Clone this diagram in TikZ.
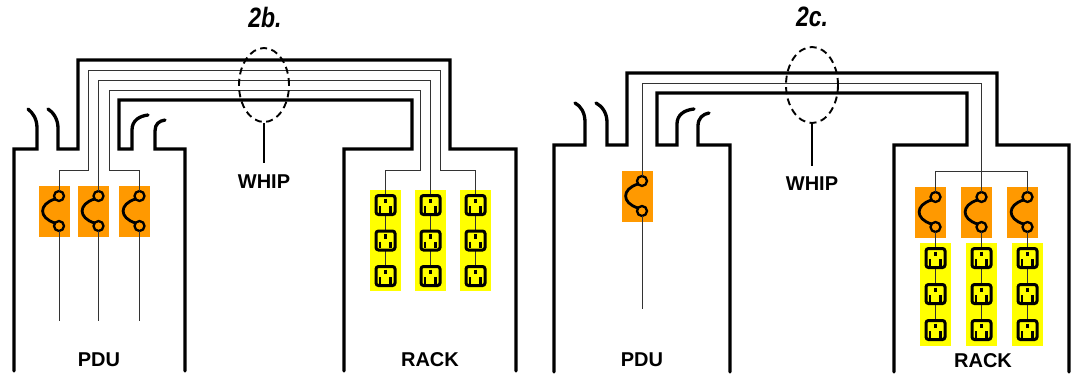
\documentclass[tikz,border=0pt]{standalone}
\usepackage{fontspec}
\setmainfont{Liberation Sans}
\usepackage{graphicx}
\usetikzlibrary{shapes.geometric}
\definecolor{fuseorange}{HTML}{FF9900}
\definecolor{outletyellow}{HTML}{FFFF00}
\begin{document}
\begin{tikzpicture}[x=1pt,y=-1pt,
  wall/.style={line width=3.3pt, line cap=round},
  wire/.style={line width=1pt, black!80},
  lbl/.style={font=\bfseries\fontsize{20}{24}\selectfont, inner sep=0pt},
  ttl/.style={font=\bfseries\itshape\fontsize{28}{30}\selectfont, inner sep=0pt},
  whip/.style={draw, dash pattern=on 7pt off 4.5pt, line width=1.9pt, ellipse, inner sep=0pt},
  leader/.style={line width=1.9pt},
  strip/.style={fill=outletyellow},
  fuse/.pic={
    \fill[fuseorange] (-20.5,-10) rectangle (10.5,41);
    \draw[line width=2.3pt] (0,0) circle[radius=5pt];
    \draw[line width=2.3pt] (0,30) circle[radius=5pt];
    \draw[line width=2.8pt] (-4,3) .. controls (-20.5,8) and (-20.5,22) .. (-4,27);
    \coordinate (-in) at (0,-5);
    \coordinate (-out) at (0,35);
  },
  outlet/.pic={
    \draw[line width=3pt, rounded corners=2.5pt, fill=outletyellow] (-9.5,-9.5) rectangle (9.5,9.5);
    \draw[line width=2.2pt] (0,-6.5) -- (0,-2);
    \draw[line width=2.2pt] (-5.5,1) -- (-5.5,7.5);
    \draw[line width=2.2pt] (5,1) -- (5,7.5);
  }
]
\useasboundingbox (0,0) rectangle (1074,375);

% ---------------- 2b ----------------
\node[ttl] (titleA) at (265,17) {\scalebox{0.82}[1]{2b.}};

% walls
\draw[wall] (14,371) -- (14,149) -- (37,149) -- (37,128) .. controls (37,119) and (33,113) .. (28,109);
\draw[wall] (48,109) .. controls (53,112) and (58,119) .. (58,128) -- (58,149) -- (78,149) -- (78,60) -- (450,60) -- (450,149) -- (516,149) -- (516,371);
\draw[wall] (148,115) .. controls (140,116) and (132,120) .. (132,130) -- (132,149) -- (119,149) -- (119,100) -- (412,100) -- (412,149) -- (344,149) -- (344,371);
\draw[wall] (165,120) .. controls (159,121) and (155,124) .. (155,131) -- (155,149) -- (185,149) -- (185,371);

% fuses in PDU
\pic (fA1) at (59,196) {fuse};
\pic (fA2) at (98.5,196) {fuse};
\pic (fA3) at (139.5,196) {fuse};
\coordinate (eA1) at (59,321);
\coordinate (eA2) at (98.5,321);
\coordinate (eA3) at (139.5,321);

% rack strips and outlet positions
\fill[outletyellow] (370,190) rectangle (401,291);
\fill[outletyellow] (415,190) rectangle (446,291);
\fill[outletyellow] (460,190) rectangle (491,291);
\foreach \c/\x in {1/385.5,2/430.5,3/475.5}{
  \foreach \r/\y in {1/205,2/240.5,3/276}{
    \coordinate (oA\c\r) at (\x,\y);
  }
}

% wires
\draw[wire] (fA1-out) -- (eA1);
\draw[wire] (fA2-out) -- (eA2);
\draw[wire] (fA3-out) -- (eA3);
\draw[wire] (fA1-in) -- (59,170) -- (88,170) -- (88,70) -- (440,70) -- (440,170) -- (475.5,170) -- (oA33);
\draw[wire] (fA2-in) -- (98.5,80) -- (430.5,80) -- (oA23);
\draw[wire] (fA3-in) -- (139.5,170) -- (109,170) -- (109,90) -- (420,90) -- (420,170) -- (385.5,170) -- (oA13);

\foreach \c in {1,2,3}{\foreach \r in {1,2,3}{\pic at (oA\c\r) {outlet};}}

% whip
\node[whip, minimum width=50pt, minimum height=74pt] (whipA) at (264,85) {};
\node[lbl] (whipAl) at (264,182) {WHIP};
\draw[leader, shorten >=11.5pt] (whipA.south) -- (whipAl.north);

\node[lbl] (pduA) at (99,360) {PDU};
\node[lbl] (rackA) at (430,360) {RACK};

% ---------------- 2c ----------------
\node[ttl] (titleB) at (812,17) {\scalebox{0.82}[1]{2c.}};

\draw[wall] (554,372) -- (554,145) -- (585,145) -- (585,122) .. controls (585,113) and (581,106) .. (575,103);
\draw[wall] (596,103) .. controls (602,106) and (607,113) .. (607,122) -- (607,145) -- (627,145) -- (627,73) -- (997,73) -- (997,145) -- (1069,145) -- (1069,372);
\draw[wall] (694,109) .. controls (684,110) and (677,115) .. (677,124) -- (677,145) -- (657,145) -- (657,93) -- (967,93) -- (967,145) -- (894,145) -- (894,372);
\draw[wall] (709,113) .. controls (703,114) and (698,118) .. (698,126) -- (698,145) -- (730,145) -- (730,372);

\pic (fB0) at (642,181) {fuse};
\coordinate (eB0) at (642,309);
\pic (fB1) at (935.5,197) {fuse};
\pic (fB2) at (981.5,197) {fuse};
\pic (fB3) at (1027.5,197) {fuse};

\fill[outletyellow] (920,243) rectangle (951,346);
\fill[outletyellow] (966,243) rectangle (997,346);
\fill[outletyellow] (1012,243) rectangle (1043,346);
\foreach \c/\x in {1/935.5,2/981.5,3/1027.5}{
  \foreach \r/\y in {1/258,2/294,3/330}{
    \coordinate (oB\c\r) at (\x,\y);
  }
}

\draw[wire] (fB0-out) -- (eB0);
\draw[wire] (fB0-in) -- (642,83) -- (981.5,83) -- (fB2-in);
\draw[wire] (fB1-in) -- (935.5,171) -- (1027.5,171) -- (fB3-in);
\draw[wire] (fB1-out) -- (oB13);
\draw[wire] (fB2-out) -- (oB23);
\draw[wire] (fB3-out) -- (oB33);

\foreach \c in {1,2,3}{\foreach \r in {1,2,3}{\pic at (oB\c\r) {outlet};}}

\node[whip, minimum width=52pt, minimum height=76pt] (whipB) at (812,85) {};
\node[lbl] (whipBl) at (812,184) {WHIP};
\draw[leader, shorten >=11pt] (whipB.south) -- (whipBl.north);

\node[lbl] (pduB) at (642,360) {PDU};
\node[lbl] (rackB) at (983,361) {RACK};
\end{tikzpicture}
\end{document}
